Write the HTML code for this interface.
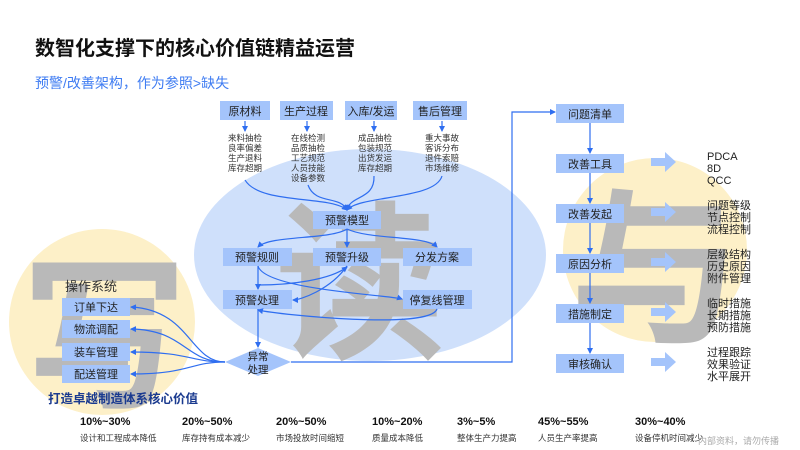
<!DOCTYPE html>
<html><head><meta charset="utf-8"><style>
body{margin:0;width:800px;height:450px;overflow:hidden;background:#fff}
svg{display:block}
text{font-family:"Liberation Sans","Noto Sans CJK SC",sans-serif}
</style></head><body>
<svg width="800" height="450" viewBox="0 0 800 450" xmlns="http://www.w3.org/2000/svg">
<defs>
<marker id="a" markerWidth="6" markerHeight="6" refX="5" refY="3" orient="auto" markerUnits="userSpaceOnUse"><path d="M0,0 L6,3 L0,6 Z" fill="#2f6ef0"/></marker>
</defs>
<text x="35" y="55" font-size="20" font-weight="bold" fill="#111">数智化支撑下的核心价值链精益运营</text>
<text x="35" y="88" font-size="14" fill="#3f7cf2">预警/改善架构，作为参照&gt;缺失</text>

<ellipse cx="370" cy="255" rx="176" ry="106" fill="#cfe0fb"/>
<circle cx="102" cy="322" r="93" fill="#fdf0c8"/>
<circle cx="655" cy="250" r="92" fill="#fdf0c8"/>
<text x="275" y="345" font-size="170" fill="#b9b9b9" font-weight="bold">读</text>
<text x="22" y="395" font-size="165" fill="#b9b9b9" font-weight="bold">写</text>
<text x="570" y="330" font-size="170" fill="#b9b9b9" font-weight="bold">与</text>

<g fill="#a4c4fb">
<rect x="220" y="101" width="50" height="19"/><rect x="280" y="101" width="53" height="19"/><rect x="345" y="101" width="52" height="19"/><rect x="413" y="101" width="54" height="19"/>
<rect x="313" y="211" width="68" height="18"/>
<rect x="223" y="248" width="69" height="18"/><rect x="313" y="248" width="68" height="18"/><rect x="403" y="248" width="69" height="18"/>
<rect x="223" y="290" width="69" height="19"/><rect x="403" y="290" width="69" height="19"/>
<rect x="62" y="298" width="68" height="18"/><rect x="62" y="320" width="68" height="18"/><rect x="62" y="343" width="68" height="18"/><rect x="62" y="365" width="68" height="18"/>
<rect x="556" y="104" width="68" height="19"/><rect x="556" y="154" width="68" height="19"/><rect x="556" y="204" width="68" height="19"/><rect x="556" y="254" width="68" height="19"/><rect x="556" y="304" width="68" height="19"/><rect x="556" y="354" width="68" height="19"/>
<path d="M225,362 L258,348 L291,362 L258,376 Z"/>
</g>
<g fill="#a4c4fb">
<path d="M651,156 h14 v-6 l11,10 l-11,10 v-6 h-14z" transform="translate(0,2)"/>
<path d="M651,206 h14 v-6 l11,10 l-11,10 v-6 h-14z" transform="translate(0,2)"/>
<path d="M651,256 h14 v-6 l11,10 l-11,10 v-6 h-14z" transform="translate(0,2)"/>
<path d="M651,306 h14 v-6 l11,10 l-11,10 v-6 h-14z" transform="translate(0,2)"/>
<path d="M651,356 h14 v-6 l11,10 l-11,10 v-6 h-14z" transform="translate(0,2)"/>
</g>

<g font-size="11" fill="#222" text-anchor="middle">
<text x="245" y="115">原材料</text><text x="306" y="115">生产过程</text><text x="371" y="115">入库/发运</text><text x="440" y="115">售后管理</text>
<text x="347" y="224">预警模型</text>
<text x="257" y="261">预警规则</text><text x="347" y="261">预警升级</text><text x="437" y="261">分发方案</text>
<text x="257" y="304">预警处理</text><text x="437" y="304">停复线管理</text>
<text x="96" y="311">订单下达</text><text x="96" y="333">物流调配</text><text x="96" y="356">装车管理</text><text x="96" y="378">配送管理</text>
<text x="590" y="118">问题清单</text><text x="590" y="168">改善工具</text><text x="590" y="218">改善发起</text><text x="590" y="268">原因分析</text><text x="590" y="318">措施制定</text><text x="590" y="368">审核确认</text>
<text x="258" y="360" font-size="10.5">异常</text><text x="258" y="373" font-size="10.5">处理</text>
</g>
<text x="65" y="291" font-size="13" fill="#333">操作系统</text>

<g font-size="8.5" fill="#333" text-anchor="middle">
<text x="245" y="141">来料抽检</text><text x="245" y="151">良率偏差</text><text x="245" y="161">生产退料</text><text x="245" y="171">库存超期</text>
<text x="308" y="141">在线检测</text><text x="308" y="151">品质抽检</text><text x="308" y="161">工艺规范</text><text x="308" y="171">人员技能</text><text x="308" y="181">设备参数</text>
<text x="375" y="141">成品抽检</text><text x="375" y="151">包装规范</text><text x="375" y="161">出货发运</text><text x="375" y="171">库存超期</text>
<text x="442" y="141">重大事故</text><text x="442" y="151">客诉分布</text><text x="442" y="161">退件索赔</text><text x="442" y="171">市场维修</text>
</g>
<g font-size="11" fill="#222">
<text x="707" y="160">PDCA</text><text x="707" y="172">8D</text><text x="707" y="184">QCC</text>
<text x="707" y="209">问题等级</text><text x="707" y="221">节点控制</text><text x="707" y="233">流程控制</text>
<text x="707" y="258">层级结构</text><text x="707" y="270">历史原因</text><text x="707" y="282">附件管理</text>
<text x="707" y="307">临时措施</text><text x="707" y="319">长期措施</text><text x="707" y="331">预防措施</text>
<text x="707" y="356">过程跟踪</text><text x="707" y="368">效果验证</text><text x="707" y="380">水平展开</text>
</g>

<g stroke="#2f6ef0" stroke-width="1.2" fill="none" marker-end="url(#a)">
<line x1="245" y1="121" x2="245" y2="131"/><line x1="307" y1="121" x2="307" y2="131"/><line x1="374" y1="121" x2="374" y2="131"/><line x1="442" y1="121" x2="442" y2="131"/>
<path d="M245,180 C260,205 330,195 347,210"/>
<path d="M308,185 C315,205 340,195 347,210"/>
<path d="M374,176 C375,200 350,195 347,210"/>
<path d="M442,176 C435,200 360,195 347,210"/>
<path d="M347,229 C330,240 270,235 258,247"/>
<line x1="347" y1="229" x2="347" y2="247"/>
<path d="M347,229 C370,240 425,235 437,247"/>
<path d="M258,266 L258,289"/>
<path d="M258,266 C265,290 390,295 402,299"/>
<path d="M347,266 C330,290 300,300 293,300"/>
<path d="M258,285 C290,285 330,280 347,267"/>
<line x1="258" y1="309" x2="258" y2="347"/>
<path d="M437,309 C430,330 280,315 258,310"/>
<path d="M291,362 H512 V112 H555"/>
<path d="M225,362 C190,362 190,310 131,307"/>
<path d="M225,362 C185,362 185,330 131,329"/>
<path d="M225,362 C190,362 190,352 131,352"/>
<path d="M225,362 C190,362 190,374 131,374"/>
<line x1="590" y1="123" x2="590" y2="153"/><line x1="590" y1="173" x2="590" y2="203"/><line x1="590" y1="223" x2="590" y2="253"/><line x1="590" y1="273" x2="590" y2="303"/><line x1="590" y1="323" x2="590" y2="353"/>
</g>

<text x="48" y="403" font-size="12.5" font-weight="bold" fill="#1a3a8f">打造卓越制造体系核心价值</text>
<g font-size="11" font-weight="bold" fill="#111">
<text x="80" y="425">10%~30%</text><text x="182" y="425">20%~50%</text><text x="276" y="425">20%~50%</text><text x="372" y="425">10%~20%</text><text x="457" y="425">3%~5%</text><text x="538" y="425">45%~55%</text><text x="635" y="425">30%~40%</text>
</g>
<g font-size="8.5" fill="#333">
<text x="80" y="441">设计和工程成本降低</text><text x="182" y="441">库存持有成本减少</text><text x="276" y="441">市场投放时间缩短</text><text x="372" y="441">质量成本降低</text><text x="457" y="441">整体生产力提高</text><text x="538" y="441">人员生产率提高</text><text x="635" y="441">设备停机时间减少</text>
</g>
<text x="698" y="444" font-size="9" fill="#aaa">内部资料，请勿传播</text>
</svg>
</body></html>
